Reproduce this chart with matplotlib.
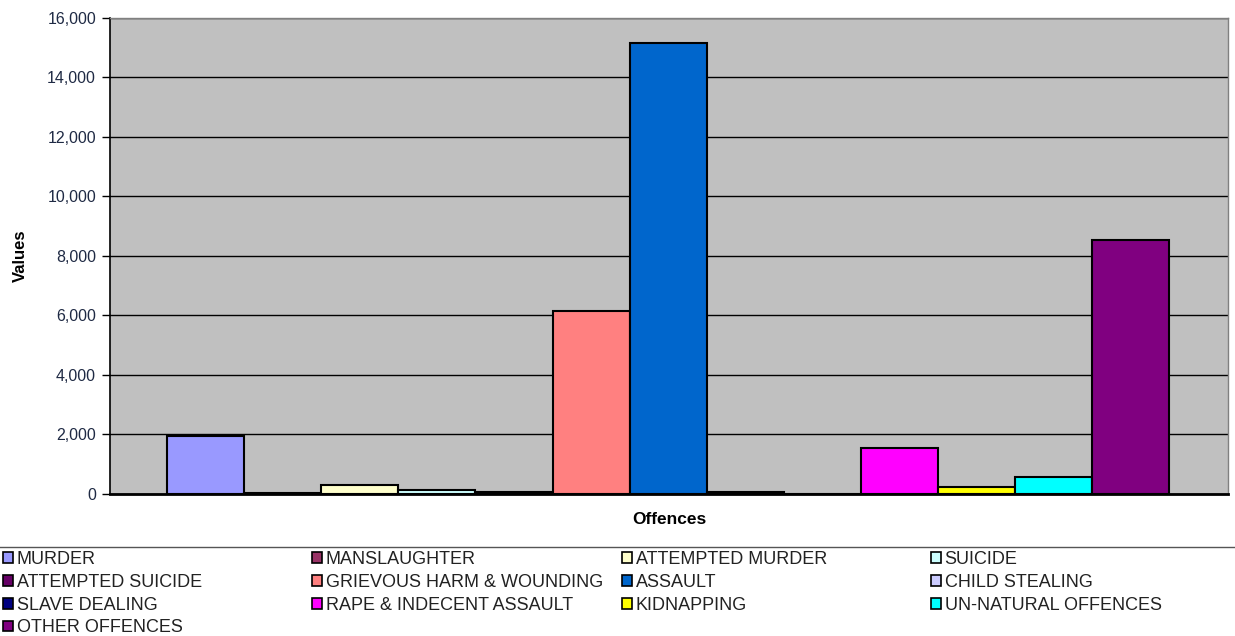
import matplotlib
matplotlib.use("Agg")
from matplotlib import pyplot as plt
from matplotlib.patches import Patch
from matplotlib.lines import Line2D
from matplotlib.ticker import FuncFormatter

plt.rcParams['font.family'] = ['Liberation Sans', 'DejaVu Sans']

offences = ["MURDER", "MANSLAUGHTER", "ATTEMPTED MURDER", "SUICIDE",
            "ATTEMPTED SUICIDE", "GRIEVOUS HARM & WOUNDING", "ASSAULT",
            "CHILD STEALING", "SLAVE DEALING", "RAPE & INDECENT ASSAULT",
            "KIDNAPPING", "UN-NATURAL OFFENCES", "OTHER OFFENCES"]
values = [1950, 40, 300, 150, 50, 6150, 15150, 50, 15, 1530, 230, 560, 8540]
colors = ["#9999FF", "#993366", "#FFFFCC", "#CCFFFF", "#660066", "#FF8080",
          "#0066CC", "#CCCCFF", "#000080", "#FF00FF", "#FFFF00", "#00FFFF",
          "#800080"]
yticks = list(range(0, 16001, 2000))

fig = plt.figure(figsize=(12.35, 6.36), dpi=100)
ax = fig.add_axes([0.089, 0.2233, 0.9054, 0.7484])
ax.set_facecolor("#C0C0C0")

x = list(range(len(values)))
ax.bar(x, values, width=1.0, color=colors, edgecolor="black", linewidth=1.5, zorder=3)

ax.set_xlim(-0.5 - 0.74, 12.5 + 0.76)
ax.set_ylim(0, 16000)
ax.set_yticks(yticks)
ax.yaxis.set_major_formatter(FuncFormatter(lambda v, p: f"{int(v):,}"))
ax.set_xticks([])
ax.grid(axis="y", color="black", linewidth=1, zorder=1)
ax.tick_params(axis="y", direction="out", length=6, width=1, color="black",
               labelsize=11.5, labelcolor="#1F2A44", pad=4)

for side in ["top", "right"]:
    ax.spines[side].set_color("#808080")
    ax.spines[side].set_linewidth(1)
ax.spines["left"].set_color("black")
ax.spines["left"].set_linewidth(1.2)
ax.spines["bottom"].set_color("black")
ax.spines["bottom"].set_linewidth(2)

ax.set_ylabel("Values", fontsize=12, fontweight="bold")
ax.yaxis.set_label_coords(-0.0805, 0.5)
ax.set_xlabel("Offences", fontsize=12.5, fontweight="bold")
ax.xaxis.set_label_coords(0.5, -0.0546)
ax.xaxis.label.set_va("center")
ax.yaxis.label.set_va("center")

# separator above legend
fig.add_artist(Line2D([0, 1], [1 - 547 / 636, 1 - 547 / 636], color="#555555", linewidth=1))

# legend laid out row by row in four columns, like the original
col_x = [3, 312, 622, 931]
handles = [Patch(facecolor=c, edgecolor="black", linewidth=1.2) for c in colors]
for ci in range(4):
    idx = list(range(ci, len(offences), 4))
    fig.legend([handles[i] for i in idx], [offences[i] for i in idx],
               loc="upper left", bbox_to_anchor=(col_x[ci] / 1235, 1 - 551 / 636),
               frameon=False, fontsize=13, handlelength=0.55, handleheight=0.55,
               handletextpad=0.2, labelspacing=0.32, borderpad=0, borderaxespad=0,
               labelcolor="#222222")

fig.savefig("out.png", dpi=100)
